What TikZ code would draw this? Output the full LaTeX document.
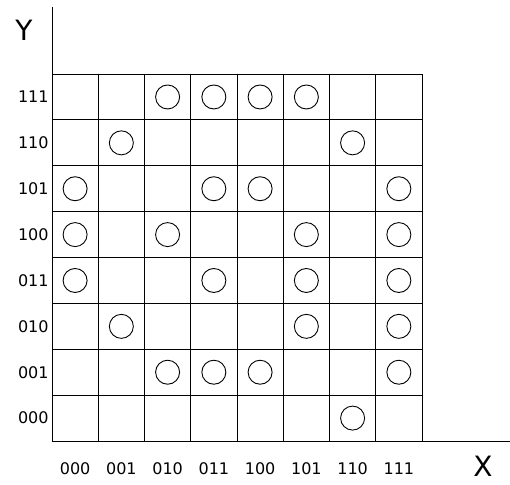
\documentclass[tikz,border=0pt]{standalone}
\usepackage{fontspec}
\setmainfont{DejaVu Sans}
\usetikzlibrary{positioning}

\begin{document}
\begin{tikzpicture}[x=1pt,y=-1pt,line width=0.9pt,
  ring/.style={draw,circle,minimum size=24pt,inner sep=0pt},
  lbl/.style={font=\fontsize{16}{16}\selectfont},
  axlbl/.style={font=\fontsize{28}{28}\selectfont}]
\useasboundingbox (0,0) rectangle (510,484);
\coordinate (O) at (52,441);
\coordinate (ytop) at (52,7);
\coordinate (xend) at (510,441);
\draw (ytop) -- (O) -- (xend);
\node[axlbl] (Y) at (24,30) {Y};
\node[axlbl] (X) at (483,466) {X};
% grid
\foreach \i in {0,...,8} {
  \draw (52+46.25*\i,74) -- (52+46.25*\i,441);
  \draw (52,441-45.875*\i) -- (422,441-45.875*\i);
}
% labels
\foreach \b [count=\k from 0] in {000,001,010,011,100,101,110,111} {
  \node[lbl,anchor=east,inner sep=1pt] (r\b) at (50,441-45.875*\k-22.9) {\b};
  \node[lbl] (c\b) at (52+46.25*\k+23.1,469) {\b};
}
% circles
\foreach \c/\r in {2/7,3/7,4/7,5/7, 1/6,6/6, 0/5,3/5,4/5,7/5,
  0/4,2/4,5/4,7/4, 0/3,3/3,5/3,7/3, 1/2,5/2,7/2, 2/1,3/1,4/1,7/1, 6/0}
  \node[ring] (m\c\r) at (52+46.25*\c+23.1,441-45.875*\r-22.9) {};
\end{tikzpicture}
\end{document}
